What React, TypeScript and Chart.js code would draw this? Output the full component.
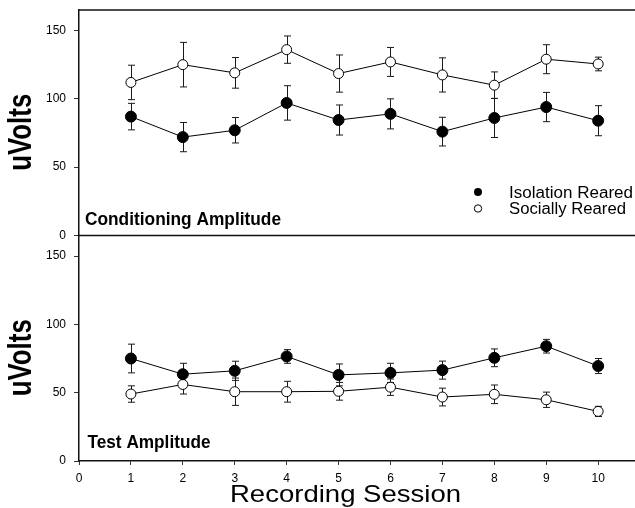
import React, { useEffect, useRef } from "react";
import { Chart, registerables } from "chart.js";

Chart.register(...registerables);

const FONT = "'Liberation Sans', Arial, Helvetica, sans-serif";

// ---- data ----
const sessions = [1, 2, 3, 4, 5, 6, 7, 8, 9, 10];
const xTickValues = [0, 1, 2, 3, 4, 5, 6, 7, 8, 9, 10];
const yTickValues = [0, 50, 100, 150];

const condIsolation = [87, 72, 77, 97, 84.5, 89, 76, 86, 94, 84];
const condIsolationErr = [9.7, 10.7, 9.3, 12.6, 11, 11, 10.5, 14.3, 10.7, 11];
const condSocial = [112, 125, 119, 136, 118.5, 127, 117.5, 110, 129, 125.5];
const condSocialErr = [12.6, 16.3, 11.2, 10, 13.6, 10.6, 12.5, 9.7, 10.6, 5];

const testIsolation = [75, 63.5, 66, 76.5, 63, 64.5, 66.5, 75.5, 84, 69.5];
const testIsolationErr = [10.5, 8, 7, 5, 8, 7, 6.6, 6.5, 5, 5.5];
const testSocial = [49, 56, 50.7, 50.7, 51, 54, 46.8, 48.8, 44.8, 36.3];
const testSocialErr = [6, 7, 10, 7.6, 6.5, 6, 6.5, 6.8, 5.6, 3.7];

const seriesNames = ["Isolation Reared", "Socially Reared"];
const panelTitles = ["Conditioning Amplitude", "Test Amplitude"];
const yTitle = "uVolts";
const xTitle = "Recording Session";

const toPoints = (vals: number[]) => sessions.map((s, i) => ({ x: s, y: vals[i] }));

function fitText(
  ctx: CanvasRenderingContext2D,
  text: string,
  x: number,
  y: number,
  font: string,
  width: number,
  align: "left" | "center" = "left"
) {
  ctx.save();
  ctx.font = font;
  ctx.textAlign = "left";
  ctx.textBaseline = "alphabetic";
  const w = ctx.measureText(text).width;
  const s = width / w;
  const sx = align === "center" ? x - width / 2 : x;
  ctx.translate(sx, y);
  ctx.scale(s, 1);
  ctx.fillStyle = "#000";
  ctx.fillText(text, 0, 0);
  ctx.restore();
}

export default function App() {
  const ref = useRef<HTMLCanvasElement>(null);

  useEffect(() => {
    const canvas = ref.current!;

    const decor = {
      id: "decor",
      beforeDatasetsDraw(chart: any) {
        const ctx = chart.ctx as CanvasRenderingContext2D;
        ctx.save();
        ctx.strokeStyle = "#1a1a1a";
        ctx.lineWidth = 1;
        chart.data.datasets.forEach((ds: any, di: number) => {
          const meta = chart.getDatasetMeta(di);
          const ys = chart.scales[ds.yAxisID];
          meta.data.forEach((pt: any, i: number) => {
            const v = ds.data[i].y;
            const e = ds.errorBars[i];
            const x = Math.round(pt.x) + 0.5;
            const y1 = ys.getPixelForValue(v + e);
            const y2 = ys.getPixelForValue(v - e);
            ctx.beginPath();
            ctx.moveTo(x, y1);
            ctx.lineTo(x, y2);
            ctx.moveTo(x - 3.5, y1);
            ctx.lineTo(x + 3.5, y1);
            ctx.moveTo(x - 3.5, y2);
            ctx.lineTo(x + 3.5, y2);
            ctx.stroke();
          });
        });
        ctx.restore();
      },
      afterDraw(chart: any) {
        const ctx = chart.ctx as CanvasRenderingContext2D;
        const ca = chart.chartArea;
        const yT = chart.scales.yTop;
        const yB = chart.scales.yBot;
        ctx.save();
        // frame lines
        ctx.strokeStyle = "#111";
        ctx.lineWidth = 1.5;
        ctx.beginPath();
        ctx.moveTo(ca.left, ca.top);
        ctx.lineTo(ca.right, ca.top);
        ctx.moveTo(ca.left, yT.bottom);
        ctx.lineTo(ca.right, yT.bottom);
        ctx.stroke();

        // y titles (rotated)
        const drawY = (scale: any) => {
          ctx.save();
          ctx.translate(31, (scale.top + scale.bottom) / 2 + 9.5);
          ctx.rotate(-Math.PI / 2);
          fitText(ctx, yTitle, 0, 0, `bold 33px ${FONT}`, 77, "center");
          ctx.restore();
        };
        drawY(yT);
        drawY(yB);

        // panel titles
        fitText(ctx, panelTitles[0], ca.left + 6, yT.bottom - 11, `bold 18px ${FONT}`, 196);
        fitText(ctx, panelTitles[1], ca.left + 8.5, yB.bottom - 13, `bold 18px ${FONT}`, 123);

        // legend
        const lx = ca.left + 399;
        ctx.fillStyle = "#000";
        ctx.beginPath();
        ctx.arc(lx, yT.top + 182, 4, 0, Math.PI * 2);
        ctx.fill();
        ctx.beginPath();
        ctx.lineWidth = 1;
        ctx.strokeStyle = "#000";
        ctx.fillStyle = "#fff";
        ctx.arc(lx, yT.top + 198.5, 3.7, 0, Math.PI * 2);
        ctx.fill();
        ctx.stroke();
        fitText(ctx, seriesNames[0], lx + 31, yT.top + 188, `16px ${FONT}`, 124);
        fitText(ctx, seriesNames[1], lx + 31, yT.top + 204, `16px ${FONT}`, 117);

        // x title
        fitText(ctx, xTitle, 230, 502, `24px ${FONT}`, 231);
        ctx.restore();
      },
    };

    const mkDs = (label: string, vals: number[], errs: number[], axis: string, filled: boolean) => ({
      label,
      data: toPoints(vals),
      errorBars: errs,
      yAxisID: axis,
      xAxisID: "x",
      borderColor: "#000",
      borderWidth: 1,
      backgroundColor: filled ? "#000" : "#fff",
      pointBackgroundColor: filled ? "#000" : "#fff",
      pointBorderColor: "#000",
      pointBorderWidth: 1,
      pointRadius: filled ? 5.5 : 5,
      tension: 0,
      fill: false,
    });

    const yScale = (weight: number) => ({
      type: "linear",
      position: "left",
      stack: "panels",
      stackWeight: 1,
      weight,
      min: 0,
      max: 165,
      afterBuildTicks: (s: any) => {
        s.ticks = yTickValues.map((v) => ({ value: v }));
      },
      afterFit: (s: any) => {
        s.width = 79;
        s.paddingTop = 0;
        s.paddingBottom = 0;
      },
      grid: {
        display: true,
        drawOnChartArea: false,
        drawTicks: true,
        tickLength: 5,
        color: "#333",
        lineWidth: 1,
      },
      border: { display: true, color: "#111", width: 1.5 },
      ticks: {
        color: "#000",
        padding: 8,
        font: { family: FONT, size: 12 },
      },
    });

    const chart = new Chart(canvas, {
      type: "line",
      data: {
        datasets: [
          mkDs(seriesNames[0], condIsolation, condIsolationErr, "yTop", true),
          mkDs(seriesNames[1], condSocial, condSocialErr, "yTop", false),
          mkDs(seriesNames[0], testIsolation, testIsolationErr, "yBot", true),
          mkDs(seriesNames[1], testSocial, testSocialErr, "yBot", false),
        ] as any,
      },
      options: {
        responsive: false,
        maintainAspectRatio: false,
        devicePixelRatio: 1,
        animation: false,
        layout: { autoPadding: false, padding: { top: 10, right: 0, left: 0, bottom: 0 } },
        plugins: {
          legend: { display: false },
          tooltip: { enabled: false },
          title: { display: false },
        },
        scales: {
          x: {
            type: "linear",
            position: "bottom",
            min: 0,
            max: 10.71,
            afterBuildTicks: (s: any) => {
              s.ticks = xTickValues.map((v) => ({ value: v }));
            },
            afterFit: (s: any) => {
              s.height = 47;
              s.paddingLeft = 0;
              s.paddingRight = 0;
            },
            grid: {
              display: true,
              drawOnChartArea: false,
              drawTicks: true,
              tickLength: 4,
              color: "#333",
              lineWidth: 1,
            },
            border: { display: true, color: "#111", width: 1.5 },
            ticks: {
              color: "#000",
              padding: 6,
              maxRotation: 0,
              autoSkip: false,
              font: { family: FONT, size: 12 },
            },
          },
          yBot: yScale(0),
          yTop: yScale(1),
        } as any,
      },
      plugins: [decor],
    });

    return () => chart.destroy();
  }, []);

  return (
    <div style={{ position: "fixed", left: 0, top: 0, width: 635, height: 508, background: "#fff" }}>
      <canvas ref={ref} width={635} height={508} style={{ display: "block", width: 635, height: 508 }} />
    </div>
  );
}
